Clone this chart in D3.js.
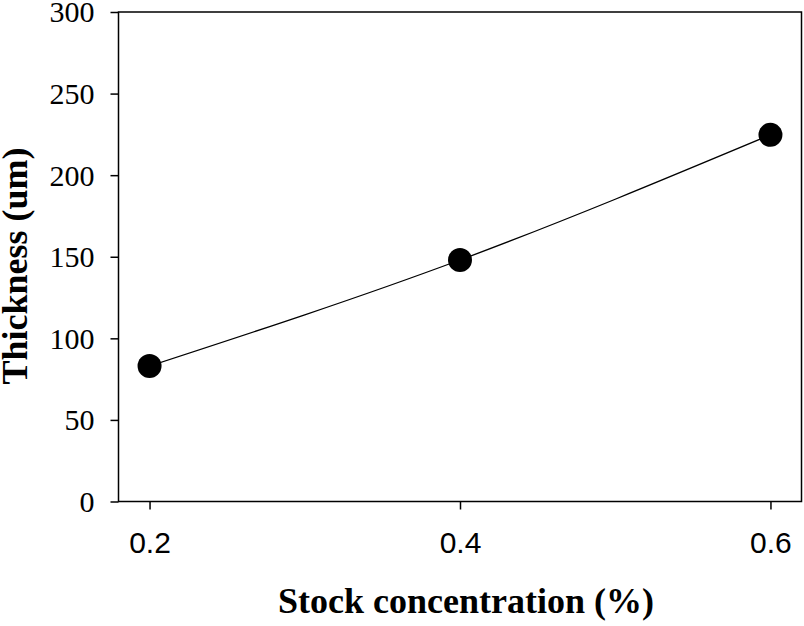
<!DOCTYPE html>
<html><head><meta charset="utf-8">
<script src="https://cdn.jsdelivr.net/npm/d3@7"></script>
<style>body{margin:0;background:#fff}</style>
</head><body>
<svg id="c" width="804" height="626"></svg>
<script>
const concentrations = [0.2, 0.4, 0.6];
const thickness = [83, 148, 224.7];
const xTicks = [0.2, 0.4, 0.6];
const yTicks = [0, 50, 100, 150, 200, 250, 300];

const svg = d3.select("#c");
const L = 118.5, R = 801.5, T = 12, B = 501.5;
const x = d3.scaleLinear().domain([0.18, 0.62]).range([L, R]);
const y = d3.scaleLinear().domain([0, 300]).range([B, T]);

// frame
svg.append("rect").attr("x", L).attr("y", T).attr("width", R - L).attr("height", B - T)
  .attr("fill", "none").attr("stroke", "#000").attr("stroke-width", 1.5);

const yAxis = svg.append("g").attr("transform", `translate(${L},0)`)
  .call(d3.axisLeft(y).tickValues(yTicks).tickSize(8).tickPadding(16).tickFormat(d3.format("d")));
yAxis.select(".domain").remove();
yAxis.selectAll("line").attr("stroke-width", 1.5);
yAxis.selectAll("text").attr("font-family", "Liberation Serif, Times New Roman, serif")
  .attr("font-size", 30).attr("fill", "#000").attr("dy", "0.33em");

const xAxis = svg.append("g").attr("transform", `translate(0,${B})`)
  .call(d3.axisBottom(x).tickValues(xTicks).tickSize(8).tickPadding(22).tickFormat(d3.format(".1f")));
xAxis.select(".domain").remove();
xAxis.selectAll("line").attr("stroke-width", 1.5);
xAxis.selectAll("text").attr("font-family", "Liberation Sans, Arial, sans-serif")
  .attr("font-size", 30).attr("fill", "#000").attr("dy", "0.71em");

const pts = concentrations.map((c, i) => [c, thickness[i]]);
const line = d3.line().x(d => x(d[0])).y(d => y(d[1])).curve(d3.curveNatural);
svg.append("path").attr("d", line(pts)).attr("fill", "none").attr("stroke", "#000").attr("stroke-width", 1.3);

svg.selectAll("circle.pt").data(pts).enter().append("circle")
  .attr("cx", d => x(d[0])).attr("cy", d => y(d[1])).attr("r", 12).attr("fill", "#000");

svg.append("text").attr("x", 466).attr("y", 613).attr("text-anchor", "middle")
  .attr("font-family", "Liberation Serif, Times New Roman, serif").attr("font-weight", "bold")
  .attr("font-size", 36).text("Stock concentration (%)");

svg.append("text").attr("transform", "translate(27,266) rotate(-90)").attr("text-anchor", "middle")
  .attr("font-family", "Liberation Serif, Times New Roman, serif").attr("font-weight", "bold")
  .attr("font-size", 36).text("Thickness (um)");
</script>
</body></html>
